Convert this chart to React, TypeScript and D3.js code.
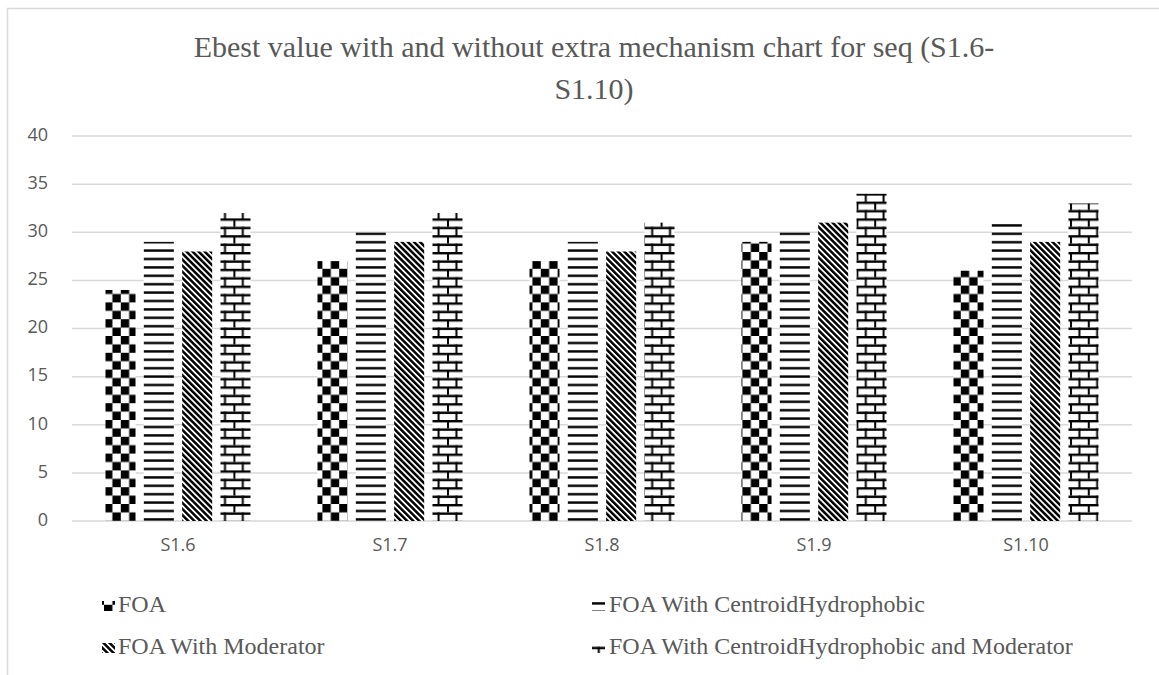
import React from "react";
import * as d3 from "d3";

const categories = ["S1.6", "S1.7", "S1.8", "S1.9", "S1.10"];
const seriesNames = [
  "FOA",
  "FOA With CentroidHydrophobic",
  "FOA With Moderator",
  "FOA With CentroidHydrophobic and Moderator",
];
const foa = [24, 27, 27, 29, 26];
const foaCentroid = [29, 30, 29, 30, 31];
const foaModerator = [28, 29, 28, 31, 29];
const foaBoth = [32, 32, 31, 34, 33];
const yTicks = [0, 5, 10, 15, 20, 25, 30, 35, 40];
const titleLines = ["Ebest value with and without extra mechanism chart for seq (S1.6-", "S1.10)"];

const seriesValues = [foa, foaCentroid, foaModerator, foaBoth];
const patternIds = ["pChecker", "pHoriz", "pDiag", "pBrick"];

const W = 1159;
const H = 675;
const grid = "#d9d9d9";
const textCol = "#595959";

export default function App() {
  const y = d3.scaleLinear().domain([0, 40]).range([521, 136]);
  const x = d3.scaleBand<string>().domain(categories).range([72, 1132]).paddingInner(0).paddingOuter(0);
  const inner = d3
    .scaleBand<number>()
    .domain([0, 1, 2, 3])
    .range([-72.5, 72.5])
    .paddingInner(0.217)
    .paddingOuter(0);

  const legendPos = [
    { sx: 102, tx: 118, cy: 606 },
    { sx: 592, tx: 609, cy: 606 },
    { sx: 102, tx: 118, cy: 648 },
    { sx: 592, tx: 609, cy: 648 },
  ];

  const u = 8.4;
  return (
    <svg
      width={W}
      height={H}
      style={{ position: "absolute", left: 0, top: 0, background: "#fff" }}
      xmlns="http://www.w3.org/2000/svg"
    >
      <defs>
        <pattern id="pChecker" patternUnits="userSpaceOnUse" width={2 * u} height={2 * u} x={104} y={0}>
          <rect width={2 * u} height={2 * u} fill="#fff" />
          <rect x={0} y={0} width={u} height={u} fill="#000" />
          <rect x={u} y={u} width={u} height={u} fill="#000" />
        </pattern>
        <pattern id="pHoriz" patternUnits="userSpaceOnUse" width={u} height={u} x={0} y={0}>
          <rect width={u} height={u} fill="#fff" />
          <rect x={0} y={u - 2.6} width={u} height={2.4} fill="#000" />
        </pattern>
        <pattern
          id="pDiag"
          patternUnits="userSpaceOnUse"
          width={4.3}
          height={4.3}
          patternTransform="rotate(-45)"
        >
          <rect width={4.3} height={4.3} fill="#fff" />
          <rect x={0} y={0} width={2.5} height={4.3} fill="#000" />
        </pattern>
        <pattern id="pBrick" patternUnits="userSpaceOnUse" width={2 * u + 1} height={2 * u} x={0} y={0}>
          <rect width={2 * u + 1} height={2 * u} fill="#fff" />
          <rect x={0} y={0} width={2 * u + 1} height={2.4} fill="#000" />
          <rect x={0} y={u} width={2 * u + 1} height={2.4} fill="#000" />
          <rect x={2} y={0} width={2} height={u} fill="#000" />
          <rect x={2 + u} y={u} width={2} height={u} fill="#000" />
        </pattern>
      </defs>

      <rect x={7.5} y={8.5} width={1300} height={1000} fill="#fff" stroke={grid} strokeWidth={1.5} />

      <g fontFamily="'Liberation Serif', 'Times New Roman', serif" fill={textCol} fontSize={30} textAnchor="middle">
        {titleLines.map((t, i) => (
          <text key={i} x={594} y={57 + i * 42}>
            {t}
          </text>
        ))}
      </g>

      {yTicks.map((t) => (
        <line key={t} x1={72} x2={1132} y1={y(t)} y2={y(t)} stroke={grid} strokeWidth={1.5} />
      ))}

      <g fontFamily="'Open Sans', sans-serif" fontSize={18} fill={textCol}>
        {yTicks.map((t) => (
          <text key={t} x={48} y={y(t)} textAnchor="end" dominantBaseline="middle">
            {t}
          </text>
        ))}
        {categories.map((c) => (
          <text key={c} x={(x(c) as number) + x.bandwidth() / 2} y={546} textAnchor="middle" dominantBaseline="middle">
            {c}
          </text>
        ))}
      </g>

      {seriesValues.map((vals, si) => (
        <g key={si}>
          {vals.map((v, ci) => {
            const cx = (x(categories[ci]) as number) + x.bandwidth() / 2;
            return (
              <rect
                key={ci}
                x={cx + (inner(si) as number)}
                y={y(v)}
                width={inner.bandwidth()}
                height={y(0) - y(v)}
                fill={`url(#${patternIds[si]})`}
              />
            );
          })}
        </g>
      ))}

      <g fontFamily="'Liberation Serif', 'Times New Roman', serif" fontSize={24} fill={textCol}>
        {seriesNames.map((n, i) => (
          <g key={n}>
            <rect x={legendPos[i].sx} y={legendPos[i].cy - 5} width={13} height={10} fill={`url(#${patternIds[i]})`} />
            <text x={legendPos[i].tx} y={legendPos[i].cy} dominantBaseline="middle">
              {n}
            </text>
          </g>
        ))}
      </g>
    </svg>
  );
}
